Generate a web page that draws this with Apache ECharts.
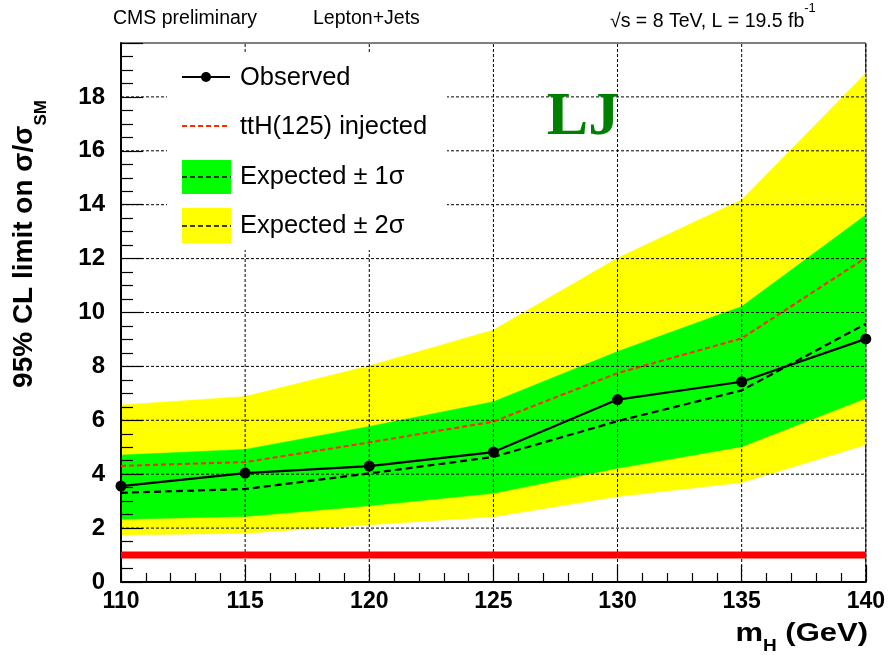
<!DOCTYPE html>
<html>
<head>
<meta charset="utf-8">
<script src="https://cdn.jsdelivr.net/npm/echarts@6/dist/echarts.min.js"></script>
<style>
  html, body { margin: 0; padding: 0; background: #ffffff; }
  #chart { width: 888px; height: 656px; }
</style>
</head>
<body>
<div id="chart"></div>
<script>
// Higgs mass hypotheses (GeV)
const massPoints = [110, 115, 120, 125, 130, 135, 140];
// 95% CL upper limits on sigma/sigma_SM
const observedLimit = [3.56, 4.04, 4.30, 4.82, 6.77, 7.43, 9.02];
const expectedLimit = [3.31, 3.45, 4.03, 4.64, 5.97, 7.11, 9.58];
const injectedLimit = [4.31, 4.45, 5.18, 5.95, 7.75, 9.04, 12.03];
const oneSigmaUp   = [4.71, 4.92, 5.77, 6.69, 8.55, 10.22, 13.62];
const oneSigmaDown = [2.33, 2.43, 2.83, 3.29, 4.22, 5.02, 6.82];
const twoSigmaUp   = [6.57, 6.88, 8.02, 9.35, 12.02, 14.18, 18.88];
const twoSigmaDown = [1.74, 1.81, 2.12, 2.42, 3.17, 3.69, 5.09];
// Standard Model reference level
const smLevel = [1, 1];
// Tick labels
const xTickLabels = ['110', '115', '120', '125', '130', '135', '140'];
const yTickLabels = ['0', '2', '4', '6', '8', '10', '12', '14', '16', '18'];

const SANS = '"Liberation Sans", Arial, Helvetica, sans-serif';
const X_MIN = 110, X_MAX = 140, Y_MIN = 0, Y_MAX = 20;

const chart = echarts.init(document.getElementById('chart'), null, { renderer: 'canvas' });

// Filled band between two limit curves, drawn as one polygon through the axes' scales
function bandSeries(lower, upper, color) {
  return {
    type: 'custom',
    z: 1,
    silent: true,
    clip: true,
    data: [[massPoints[0], lower[0]]],
    renderItem: function (params, api) {
      const pts = [];
      for (let i = 0; i < massPoints.length; i++) pts.push(api.coord([massPoints[i], upper[i]]));
      for (let i = massPoints.length - 1; i >= 0; i--) pts.push(api.coord([massPoints[i], lower[i]]));
      return { type: 'polygon', shape: { points: pts }, style: { fill: color, stroke: color, lineWidth: 0.5 } };
    }
  };
}

// Dashed grid drawn above the bands (split lines of the axes sit underneath series)
const gridSeries = {
  type: 'custom',
  z: 3,
  silent: true,
  data: [[X_MIN, Y_MIN]],
  renderItem: function (params, api) {
    const children = [];
    const dash = { stroke: '#000', lineWidth: 1, lineDash: [3, 2] };
    xTickLabels.map(Number).filter(v => v > X_MIN).forEach(v => {
      const a = api.coord([v, Y_MIN]), b = api.coord([v, Y_MAX]);
      children.push({ type: 'line', shape: { x1: a[0], y1: a[1], x2: b[0], y2: b[1] }, style: dash });
    });
    yTickLabels.map(Number).filter(v => v > Y_MIN).forEach(v => {
      const a = api.coord([X_MIN, v]), b = api.coord([X_MAX, v]);
      children.push({ type: 'line', shape: { x1: a[0], y1: a[1], x2: b[0], y2: b[1] }, style: dash });
    });
    return { type: 'group', children: children };
  }
};

function pairs(ys) { return massPoints.map((m, i) => [m, ys[i]]); }

const option = {
  animation: false,
  backgroundColor: '#ffffff',
  grid: {
    left: 121, right: 21, top: 43, bottom: 74,
    show: true, borderColor: '#000', borderWidth: 1, backgroundColor: 'transparent'
  },
  xAxis: {
    type: 'value', min: X_MIN, max: X_MAX, interval: 5, z: 3,
    axisLine: { show: true, onZero: false, lineStyle: { color: '#000', width: 2 } },
    axisTick: { show: true, inside: true, length: 17, lineStyle: { color: '#000', width: 1.2 } },
    minorTick: { show: true, splitNumber: 5, length: 9, lineStyle: { color: '#000', width: 1.2 } },
    splitLine: { show: false },
    axisLabel: {
      color: '#000', fontFamily: SANS, fontWeight: 'bold', fontSize: 23, margin: 8,
      formatter: v => { const s = String(v); return xTickLabels.includes(s) ? s : ''; }
    }
  },
  yAxis: {
    type: 'value', min: Y_MIN, max: Y_MAX, interval: 2, z: 3,
    axisLine: { show: true, onZero: false, lineStyle: { color: '#000', width: 2 } },
    axisTick: { show: true, inside: true, length: 22, lineStyle: { color: '#000', width: 1.2 } },
    minorTick: { show: true, splitNumber: 4, length: 12, lineStyle: { color: '#000', width: 1.2 } },
    splitLine: { show: false },
    axisLabel: {
      color: '#000', fontFamily: SANS, fontWeight: 'bold', fontSize: 24, margin: 16,
      formatter: v => { const s = String(v); return yTickLabels.includes(s) ? s : ''; }
    }
  },
  series: [
    bandSeries(twoSigmaDown, twoSigmaUp, '#ffff00'),
    bandSeries(oneSigmaDown, oneSigmaUp, '#00ff00'),
    gridSeries,
    {
      name: 'SM', type: 'line', z: 4, silent: true, symbol: 'none',
      data: [[massPoints[0], smLevel[0]], [massPoints[massPoints.length - 1], smLevel[1]]],
      lineStyle: { color: '#ff0000', width: 7 }
    },
    {
      name: 'Expected', type: 'line', z: 5, silent: true, symbol: 'none',
      data: pairs(expectedLimit),
      lineStyle: { color: '#000', width: 2.2, type: [7, 4] }
    },
    {
      name: 'ttH(125) injected', type: 'line', z: 5, silent: true, symbol: 'none',
      data: pairs(injectedLimit),
      lineStyle: { color: '#ff2a00', width: 2.1, type: [5, 3] }
    },
    {
      name: 'Observed', type: 'line', z: 6, silent: true,
      symbol: 'circle', symbolSize: 11,
      itemStyle: { color: '#000' },
      data: pairs(observedLimit),
      lineStyle: { color: '#000', width: 2.2 }
    }
  ],
  graphic: [
    // header
    { type: 'text', z: 100, x: 113, y: 19,
      style: { text: 'CMS preliminary', font: '19.5px ' + SANS, fill: '#000', textVerticalAlign: 'middle' } },
    { type: 'text', z: 100, x: 313, y: 19,
      style: { text: 'Lepton+Jets', font: '19.5px ' + SANS, fill: '#000', textVerticalAlign: 'middle' } },
    { type: 'text', z: 100, x: 610, y: 17,
      style: {
        text: '{a|√s = 8 TeV, L = 19.5 fb}{b|-1}', fill: '#000', textVerticalAlign: 'middle',
        rich: {
          a: { fontFamily: SANS, fontSize: 19.5, lineHeight: 30, verticalAlign: 'bottom' },
          b: { fontFamily: SANS, fontSize: 13, lineHeight: 30, verticalAlign: 'top' }
        }
      } },
    // legend
    { type: 'rect', z: 50, silent: true, shape: { x: 167, y: 53, width: 280, height: 197 },
      style: { fill: '#ffffff' } },
    { type: 'line', z: 60, shape: { x1: 182, y1: 77, x2: 230, y2: 77 },
      style: { stroke: '#000', lineWidth: 2.2 } },
    { type: 'circle', z: 61, shape: { cx: 206, cy: 77, r: 5 }, style: { fill: '#000' } },
    { type: 'text', z: 60, x: 240, y: 78,
      style: { text: 'Observed', font: '25.5px ' + SANS, fill: '#000', textVerticalAlign: 'middle' } },
    { type: 'line', z: 60, shape: { x1: 182, y1: 126, x2: 230, y2: 126 },
      style: { stroke: '#ff2a00', lineWidth: 2.2, lineDash: [5, 3] } },
    { type: 'text', z: 60, x: 240, y: 127,
      style: { text: 'ttH(125) injected', font: '25.5px ' + SANS, fill: '#000', textVerticalAlign: 'middle' } },
    { type: 'rect', z: 60, shape: { x: 182, y: 160, width: 49, height: 34 }, style: { fill: '#00ff00' } },
    { type: 'line', z: 61, shape: { x1: 182, y1: 177, x2: 231, y2: 177 },
      style: { stroke: '#000', lineWidth: 1.5, lineDash: [5, 3] } },
    { type: 'text', z: 60, x: 240, y: 177,
      style: { text: 'Expected ± 1σ', font: '25.5px ' + SANS, fill: '#000', textVerticalAlign: 'middle' } },
    { type: 'rect', z: 60, shape: { x: 182, y: 208, width: 49, height: 35 }, style: { fill: '#ffff00' } },
    { type: 'line', z: 61, shape: { x1: 182, y1: 226, x2: 231, y2: 226 },
      style: { stroke: '#000', lineWidth: 1.5, lineDash: [5, 3] } },
    { type: 'text', z: 60, x: 240, y: 226,
      style: { text: 'Expected ± 2σ', font: '25.5px ' + SANS, fill: '#000', textVerticalAlign: 'middle' } },
    // channel tag
    { type: 'text', z: 60, x: 583, y: 118,
      style: { text: 'LJ', font: 'bold 62px "Liberation Serif", "Times New Roman", serif', fill: '#008000',
        textAlign: 'center', textVerticalAlign: 'middle' } },
    // y axis title
    { type: 'text', z: 100, x: 30, y: 244, rotation: Math.PI / 2,
      style: {
        text: '{a|95% CL limit on σ/σ}{b|SM}', fill: '#000', textAlign: 'center', textVerticalAlign: 'middle',
        rich: {
          a: { fontFamily: SANS, fontWeight: 'bold', fontSize: 28, lineHeight: 40, verticalAlign: 'top' },
          b: { fontFamily: SANS, fontWeight: 'bold', fontSize: 17, lineHeight: 40, verticalAlign: 'bottom' }
        }
      } },
    // x axis title
    { type: 'text', z: 100, x: 868, y: 638, scaleY: 0.82,
      style: {
        text: '{a|m}{b|H}{a| (GeV)}', fill: '#000', textAlign: 'right', textVerticalAlign: 'middle',
        rich: {
          a: { fontFamily: SANS, fontWeight: 'bold', fontSize: 31, lineHeight: 40, verticalAlign: 'top' },
          b: { fontFamily: SANS, fontWeight: 'bold', fontSize: 19, lineHeight: 40, verticalAlign: 'bottom' }
        }
      } }
  ]
};

chart.setOption(option);
</script>
</body>
</html>
